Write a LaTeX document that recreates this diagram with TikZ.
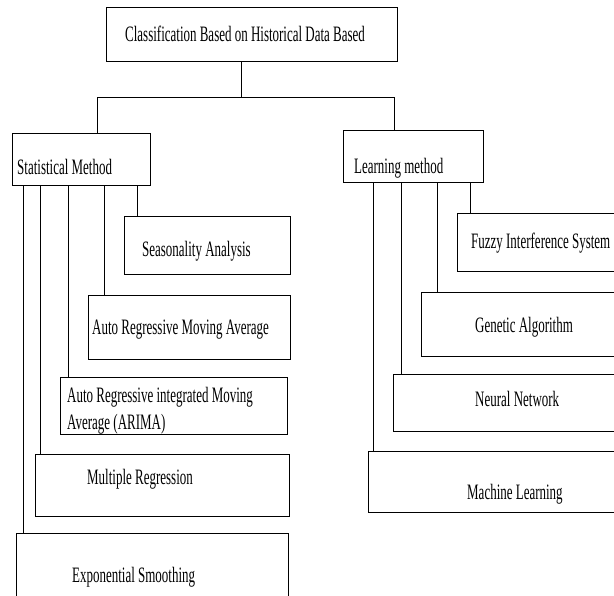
\documentclass[tikz,border=0pt]{standalone}
\usepackage{fontspec}
\newfontfamily\condserif[FakeStretch=0.59]{Liberation Serif}
\usepackage{tikz}
\usetikzlibrary{positioning}

\begin{document}
\begin{tikzpicture}[x=1pt, y=-1pt,
  bx/.style={draw, line width=1.1pt, anchor=north west, inner sep=0pt},
  lbl/.style={anchor=base west, inner sep=0pt, align=left,
              font=\condserif\fontsize{22}{27}\selectfont},
  lnk/.style={line width=0.7pt},
]
\clip (0,0) rectangle (614,596);
\fill[white] (0,0) rectangle (614,596);

% root and the two method boxes
\node[bx, minimum width=291pt, minimum height=54pt] (top) at (106,7) {};
\node[bx, minimum width=138pt, minimum height=52pt] (stat) at (12,133) {};
\node[bx, minimum width=140pt, minimum height=52pt] (learn) at (343,130) {};

% statistical branch
\node[bx, minimum width=166pt, minimum height=58pt] (seas) at (124,216) {};
\node[bx, minimum width=202pt, minimum height=64pt] (arma) at (88,295) {};
\node[bx, minimum width=227pt, minimum height=57pt] (arima) at (60,377) {};
\node[bx, minimum width=254pt, minimum height=62pt] (mreg) at (35,454) {};
\node[bx, minimum width=272pt, minimum height=70pt] (expo) at (16,533) {};

% learning branch
\node[bx, minimum width=200pt, minimum height=58pt] (fuzzy) at (457,213) {};
\node[bx, minimum width=240pt, minimum height=64pt] (gen) at (421,292) {};
\node[bx, minimum width=260pt, minimum height=57pt] (neur) at (393,374) {};
\node[bx, minimum width=280pt, minimum height=61pt] (mach) at (368,451) {};

% texts
\node[lbl] (top-t) at (125,42) {Classification Based on Historical Data Based};
\node[lbl] (stat-t) at (17,175) {Statistical Method};
\node[lbl] (learn-t) at (354,174) {Learning method};
\node[lbl] (seas-t) at (142,257) {Seasonality Analysis};
\node[lbl] (arma-t) at (92,335) {Auto Regressive Moving Average};
\node[lbl] (arima-t) at (67,429) {Auto Regressive integrated Moving\\Average (ARIMA)};
\node[lbl] (mreg-t) at (87,485) {Multiple Regression};
\node[lbl] (expo-t) at (72,582) {Exponential Smoothing};
\node[lbl] (fuzzy-t) at (471,249) {Fuzzy Interference System};
\node[lbl] (gen-t) at (475,333) {Genetic Algorithm};
\node[lbl] (neur-t) at (475,407) {Neural Network};
\node[lbl] (mach-t) at (467,500) {Machine Learning};

% tree lines
\coordinate (fork) at (241,97);
\draw[lnk] (fork |- top.south) -- (fork);
\draw[lnk] (97,0 |- stat.north) -- (97,0 |- fork) -- (394,0 |- fork) -- (394,0 |- learn.north);

\foreach \xx/\sub in {23/expo, 40/mreg, 68/arima, 104/arma, 137/seas}
  \draw[lnk] (\xx,0 |- stat.south) -- (\xx,0 |- \sub.north);
\foreach \xx/\sub in {373/mach, 401/neur, 437/gen, 470/fuzzy}
  \draw[lnk] (\xx,0 |- learn.south) -- (\xx,0 |- \sub.north);
\end{tikzpicture}
\end{document}
